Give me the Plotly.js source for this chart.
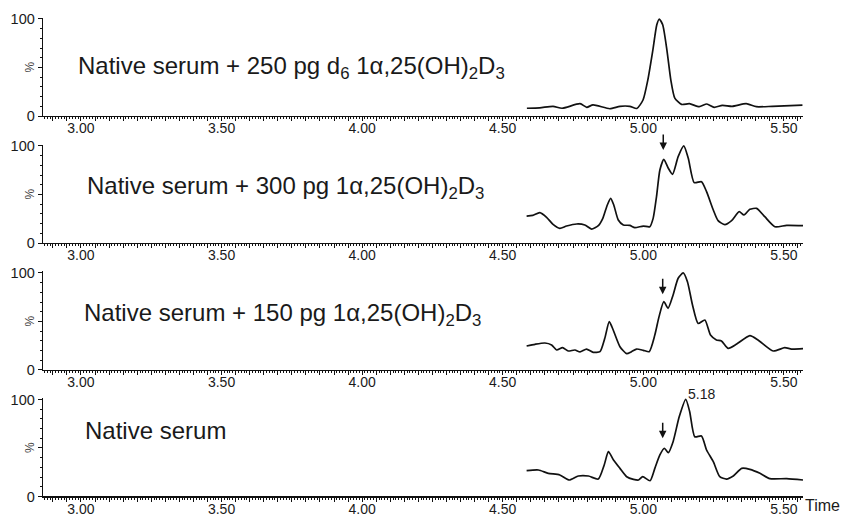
<!DOCTYPE html>
<html>
<head>
<meta charset="utf-8">
<script src="https://cdn.plot.ly/plotly-3.0.1.min.js"></script>
<style>
html,body{margin:0;padding:0;background:#fff;}
#chart{width:842px;height:518px;}
</style>
</head>
<body>
<div id="chart"></div>
<script>
// ---- data (retention time in min, relative intensity in %) ----
const t1 = [4.586,4.632,4.679,4.711,4.775,4.799,4.821,4.881,4.917,4.952,4.977,4.999,5.016,5.034,5.048,5.057,5.069,5.084,5.098,5.112,5.136,5.164,5.199,5.226,5.252,5.281,5.316,5.366,5.402,5.459,5.566];
const v1 = [8,8.5,10,8,12.7,9,11.5,7.5,10,10,7.8,16.5,37,68,94,100,94,68,37,18.5,12,12.7,9.6,12.4,9,11,10,12.7,9.6,10,11.3];

const t2 = [4.585,4.607,4.632,4.656,4.679,4.703,4.727,4.763,4.792,4.816,4.840,4.856,4.872,4.884,4.895,4.911,4.929,4.952,4.970,5.000,5.023,5.035,5.047,5.059,5.073,5.089,5.104,5.124,5.144,5.160,5.181,5.207,5.225,5.249,5.266,5.290,5.314,5.341,5.358,5.379,5.403,5.432,5.468,5.510,5.568];
const v2 = [27.8,28.5,31.3,26.5,19.2,15.1,17.5,19.6,18.6,14.4,17.9,25.4,39.2,46,39.2,23.7,18.6,18.2,15.8,17.5,16.8,25.4,47.8,75.3,86.3,77,70.8,89,100,87.3,62.2,63.2,52.9,34,23,18.9,23,32.3,28.9,34.7,35.7,27.1,16.8,18.2,17.9];

const t3 = [4.585,4.615,4.650,4.674,4.692,4.713,4.733,4.757,4.775,4.798,4.822,4.846,4.863,4.879,4.893,4.917,4.941,4.958,4.976,5.000,5.021,5.041,5.056,5.073,5.088,5.106,5.124,5.142,5.157,5.175,5.195,5.219,5.239,5.260,5.278,5.302,5.331,5.379,5.408,5.462,5.503,5.527,5.568];
const v3 = [24.7,26.5,27.8,25.8,20.6,23,19.6,20.6,18.6,21.6,18.2,18.9,32.6,49.8,41.2,24,16.8,18.9,21.6,20.3,18.9,36,55,70.4,63.6,77.3,94.5,100,91,67,48,51.5,36,31,30,22.3,26.5,35.4,31,19.6,23,21.6,22];

const t4 = [4.585,4.627,4.662,4.703,4.737,4.769,4.805,4.840,4.861,4.876,4.894,4.917,4.941,4.965,4.983,4.998,5.024,5.041,5.059,5.075,5.089,5.106,5.128,5.151,5.165,5.183,5.207,5.225,5.249,5.272,5.296,5.320,5.350,5.379,5.415,5.450,5.510,5.568];
const v4 = [26.6,27.3,23.9,22.2,17,21.1,21.1,18,32.5,46.2,37.6,29,20.4,17.7,17,20.4,16.3,29,42.8,49.7,45.2,56.5,82.3,100,87.4,61.6,62.4,47.9,35.9,20.4,18,21.1,29,28,23.9,18.4,18.4,17];

const panelLabels = [
  "Native serum + 250 pg d<sub>6</sub> 1α,25(OH)<sub>2</sub>D<sub>3</sub>",
  "Native serum + 300 pg 1α,25(OH)<sub>2</sub>D<sub>3</sub>",
  "Native serum + 150 pg 1α,25(OH)<sub>2</sub>D<sub>3</sub>",
  "Native serum"
];
const xTickLabels = ["3.00","3.50","4.00","4.50","5.00","5.50"];
const xTickLabelVals = [3.0,3.5,4.0,4.5,5.0,5.5];
const yTickVals = [0,50,100];
const yTickText = ["0","","100"];
const arrowTimes = [null,5.071,5.069,5.069];
const arrowTips = [null,95.9,78,60];
const peakLabelText = "5.18";

// ---- layout ----
const FONT = "Liberation Sans, Arial, Helvetica, sans-serif";
const series = [[t1,v1],[t2,v2],[t3,v3],[t4,v4]];
const domains = [[0.7871,0.9849],[0.5321,0.7299],[0.2771,0.4749],[0.0231,0.2209]];
const labelY = [49.5,56.7,57.7,67.5];
const labelX = [0.044,0.055,0.051,0.053];

// medium ticks every 0.05, labelled only on the 0.5 steps
const xtv = [], xtt = [];
for (let k = 58; k <= 111; k++) {
  const val = k*0.05;
  xtv.push(val);
  const idx = xTickLabelVals.findIndex(q => Math.abs(q-val) < 1e-6);
  xtt.push(idx >= 0 ? xTickLabels[idx] : "");
}

const data = [];
const layout = {
  width:842, height:518,
  margin:{l:43, r:39, t:10, b:10},
  paper_bgcolor:"#fff", plot_bgcolor:"#fff",
  showlegend:false,
  font:{family:FONT, color:"#1a1a1a"},
  annotations:[]
};

series.forEach((s,i) => {
  const n = i+1;
  const xa = n===1 ? "x" : "x"+n;
  const ya = n===1 ? "y" : "y"+n;
  data.push({
    x:s[0], y:s[1], xaxis:xa, yaxis:ya, type:"scatter", mode:"lines",
    line:{color:"#111", width:1.7, shape:"spline", smoothing:0.6},
    hoverinfo:"skip"
  });
  layout[n===1?"xaxis":"xaxis"+n] = {
    anchor:ya, range:[2.865,5.568], domain:[0,1],
    showgrid:false, zeroline:false, showline:true, linecolor:"#111", linewidth:1.3,
    ticks:"outside", ticklen:4, tickwidth:1, tickcolor:"#111",
    tickmode:"array", tickvals:xtv, ticktext:xtt, ticklabelstandoff:-5,
    tickfont:{family:FONT, size:14, color:"#1a1a1a"},
    minor:{dtick:0.01, tick0:0, ticklen:2, tickwidth:1, tickcolor:"#111", ticks:"outside"},
    fixedrange:true
  };
  layout[n===1?"yaxis":"yaxis"+n] = {
    anchor:xa, domain:domains[i], range:[0,101.5],
    showgrid:false, zeroline:false, showline:true, linecolor:"#111", linewidth:1.3,
    ticks:"outside", ticklen:4, tickwidth:1, tickcolor:"#111",
    tickmode:"array", tickvals:yTickVals, ticktext:yTickText,
    tickfont:{family:FONT, size:14.5, color:"#1a1a1a"},
    minor:{dtick:10, tick0:0, ticklen:2, tickwidth:1, tickcolor:"#111", ticks:"outside"},
    fixedrange:true
  };
  layout.annotations.push({
    xref:"paper", yref:ya, x:labelX[i], y:labelY[i], xanchor:"left", yanchor:"middle",
    text:panelLabels[i], showarrow:false, font:{family:FONT, size:24, color:"#1a1a1a"}
  });
  layout.annotations.push({
    xref:"paper", yref:ya, x:-0.017, y:50, xanchor:"center", yanchor:"middle",
    text:"%", textangle:-90, showarrow:false, font:{family:FONT, size:12, color:"#444"}
  });
  if (arrowTimes[i] !== null) {
    layout.annotations.push({
      xref:xa, yref:ya, x:arrowTimes[i], y:arrowTips[i], ax:0, ay:-17,
      text:"", showarrow:true, arrowhead:2, arrowsize:1, arrowwidth:1.5, arrowcolor:"#111"
    });
  }
});

layout.annotations.push({
  xref:"paper", yref:"paper", x:0.867, y:0.2289, xanchor:"center", yanchor:"middle",
  text:peakLabelText, showarrow:false, font:{family:FONT, size:14, color:"#1a1a1a"}
});
layout.annotations.push({
  xref:"paper", yref:"paper", x:1.0, y:0.006, xanchor:"left", yanchor:"middle",
  text:"Time", showarrow:false, font:{family:FONT, size:16, color:"#1a1a1a"}
});

Plotly.newPlot("chart", data, layout, {staticPlot:true, displayModeBar:false});
</script>
</body>
</html>
